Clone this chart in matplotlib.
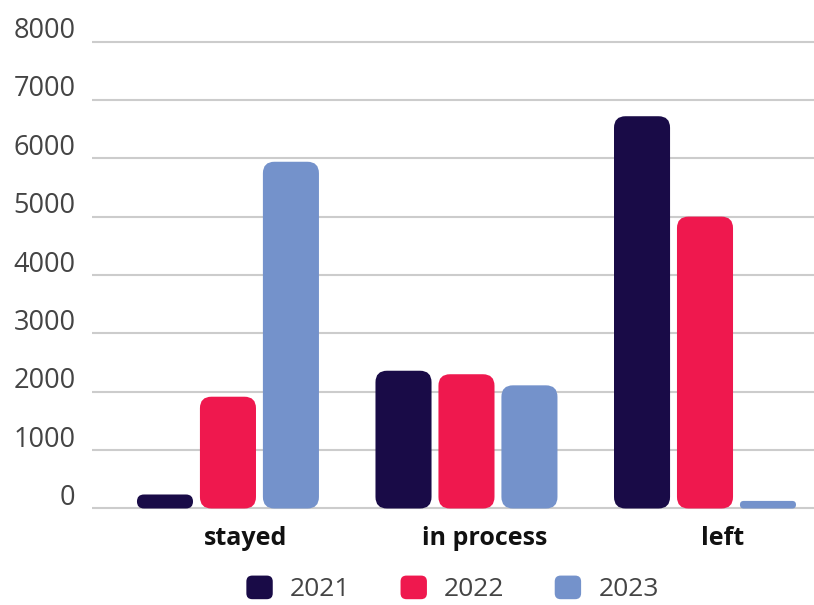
import matplotlib
matplotlib.use("Agg")
import matplotlib.pyplot as plt
import matplotlib.transforms as mtransforms
from matplotlib.patches import FancyBboxPatch, Patch
from matplotlib.legend_handler import HandlerPatch
import numpy as np

categories = ["stayed", "in process", "left"]
years = ["2021", "2022", "2023"]
values_2021 = [240, 2360, 6720]
values_2022 = [1915, 2300, 5000]
values_2023 = [5940, 2110, 130]
yticks = [0, 1000, 2000, 3000, 4000, 5000, 6000, 7000, 8000]

colors = ["#190B47", "#EF184E", "#7492CB"]
series = [values_2021, values_2022, values_2023]

plt.rcParams['font.family'] = ['Open Sans', 'DejaVu Sans']

fig = plt.figure(figsize=(8.14, 6.05), dpi=100)
ax = fig.add_axes([92/814, (605-512)/605, 1 - 92/814, (512-38)/605])
ax.set_xlim(-0.570, 2.457)
ax.set_ylim(-60, 8060)

x = np.arange(len(categories))
width = 0.235
step = 0.264

bar_containers = []
for i, (vals, col) in enumerate(zip(series, colors)):
    bc = ax.bar(x + (i - 1) * step, vals, width=width, color=col, label=years[i], zorder=3)
    bar_containers.append(bc)

# replace bars by rounded versions
fig.canvas.draw()
p0 = ax.transData.transform((0, 0))
p1 = ax.transData.transform((1, 1000))
px_per_x = p1[0] - p0[0]
px_per_y = (p1[1] - p0[1]) / 1000.0
aspect = px_per_x / px_per_y
R = 11.5  # px
for bc in bar_containers:
    for rect in bc:
        bx, by = rect.get_x(), rect.get_y()
        bw, bh = rect.get_width(), rect.get_height()
        h_px = bh * px_per_y
        w_px = bw * px_per_x
        r_px = min(R, h_px / 2, w_px / 2)
        fb = FancyBboxPatch((bx, by), bw, bh,
                            boxstyle=f"round,pad=0,rounding_size={r_px / px_per_x}",
                            mutation_aspect=aspect,
                            fc=rect.get_facecolor(), ec='none', zorder=3)
        ax.add_patch(fb)
        rect.set_visible(False)

ax.set_yticks(yticks)
ax.set_yticklabels([str(v) for v in yticks])
ax.yaxis.grid(True, color="#cccccc", linewidth=1.5, zorder=0)
ax.set_axisbelow(True)
ax.tick_params(axis='y', length=0, pad=12, labelsize=19.5, labelcolor="#444444")
for lab in ax.get_yticklabels():
    lab.set_transform(lab.get_transform() + mtransforms.ScaledTranslation(0, 14/100, fig.dpi_scale_trans))

ax.set_xticks(x)
ax.set_xticklabels(categories, fontweight='bold')
ax.tick_params(axis='x', length=0, pad=10, labelsize=18, labelcolor="#111111")
for lab in ax.get_xticklabels():
    lab.set_transform(lab.get_transform() + mtransforms.ScaledTranslation(18/100, 0, fig.dpi_scale_trans))

for s in ax.spines.values():
    s.set_visible(False)


class RoundHandler(HandlerPatch):
    def create_artists(self, legend, orig_handle, xdescent, ydescent, width, height, fontsize, trans):
        p = FancyBboxPatch((-xdescent, -ydescent), width, height,
                           boxstyle=f"round,pad=0,rounding_size={0.25 * height}",
                           fc=orig_handle.get_facecolor(), ec='none', transform=trans)
        return [p]


handles = [Patch(facecolor=c, label=y) for c, y in zip(colors, years)]
leg = fig.legend(handles=handles, loc='center', bbox_to_anchor=(452.5/814, 1 - 589/605),
                 ncol=3, frameon=False, fontsize=19, handlelength=1.0, handleheight=1.0,
                 handletextpad=0.65, columnspacing=1.9, borderpad=0.2,
                 handler_map={Patch: RoundHandler()})
for t in leg.get_texts():
    t.set_color("#444444")

fig.savefig("out.png", dpi=100)
